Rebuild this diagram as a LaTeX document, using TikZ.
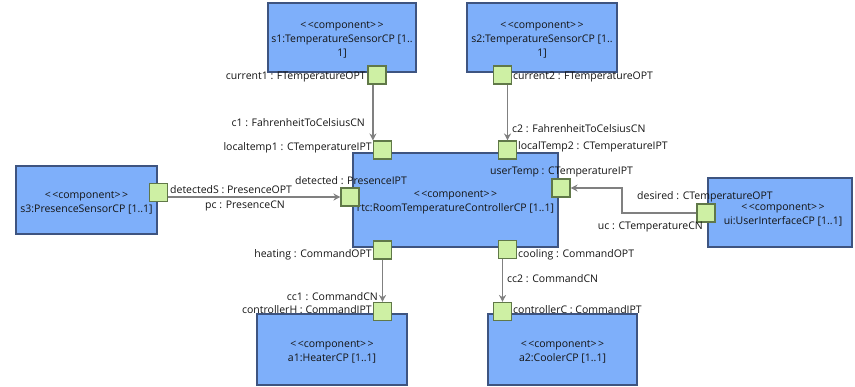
\documentclass[tikz,border=0pt]{standalone}
\usepackage{fontspec}
\setmainfont{Open Sans}
\usetikzlibrary{arrows.meta}

\definecolor{compfill}{RGB}{126,175,250}
\definecolor{compline}{RGB}{62,84,128}
\definecolor{portfill}{RGB}{206,240,164}
\definecolor{portline}{RGB}{96,120,72}
\definecolor{wire}{RGB}{128,128,128}
\definecolor{labeltext}{RGB}{20,20,20}

% stereotype marker, kept as separate angle brackets
\newcommand{\stereo}[1]{<\kern1.5pt<#1>\kern1.5pt>}

\tikzset{
  comp/.style={draw=compline, fill=compfill, line width=1.3pt, inner sep=0pt},
  comptext/.style={align=center, inner sep=0pt, yshift=-2.5pt,
    font=\fontsize{10.5}{14}\selectfont, text=labeltext},
  port/.style={draw=portline, fill=portfill, line width=1.1pt,
    minimum size=18pt, inner sep=0pt},
  wirelink/.style={draw=wire, line width=1.6pt, -{Stealth[length=7pt,width=7pt]}},
  lbl/.style={inner sep=0pt, font=\fontsize{10.5}{12}\selectfont, text=labeltext},
}

\begin{document}
\begin{tikzpicture}[x=1pt,y=-1pt]
\useasboundingbox (0,0) rectangle (855,386);

% component parts
\node[comp, minimum width=148pt, minimum height=69pt] (s1) at (342,37.5) {};
\node[comptext] (s1t) at (s1.center)
  {\stereo{component}\\s1:TemperatureSensorCP [1..\\1]};
\node[comp, minimum width=150pt, minimum height=69pt] (s2) at (542,37.5) {};
\node[comptext] (s2t) at (s2.center)
  {\stereo{component}\\s2:TemperatureSensorCP [1..\\1]};
\node[comp, minimum width=141pt, minimum height=68pt] (s3) at (86.5,200) {};
\node[comptext] (s3t) at (s3.center)
  {\stereo{component}\\s3:PresenceSensorCP [1..1]};
\node[comp, minimum width=205pt, minimum height=94pt] (rtc) at (455.5,200) {};
\node[comptext] (rtct) at (rtc.center)
  {\stereo{component}\\rtc:RoomTemperatureControllerCP [1..1]};
\node[comp, minimum width=144pt, minimum height=69pt] (ui) at (780,212.5) {};
\node[comptext] (uit) at ([xshift=3pt]ui.center)
  {\stereo{component}\\ui:UserInterfaceCP [1..1]};
\node[comp, minimum width=150pt, minimum height=71pt] (a1) at (332,349.5) {};
\node[comptext] (a1t) at (a1.center)
  {\stereo{component}\\a1:HeaterCP [1..1]};
\node[comp, minimum width=149pt, minimum height=71pt] (a2) at (562.5,349.5) {};
\node[comptext] (a2t) at (a2.center)
  {\stereo{component}\\a2:CoolerCP [1..1]};

% ports
\node[port] (pcur1) at (377,75) {};
\node[port] (pcur2) at (502.5,75) {};
\node[port] (pdetS) at (158.5,192.5) {};
\node[port] (ploc1) at (382.5,150) {};
\node[port] (ploc2) at (507.5,150) {};
\node[port] (puser) at (561,188) {};
\node[port] (pdet) at (350,197) {};
\node[port] (pheat) at (382.5,250) {};
\node[port] (pcool) at (507.5,249.5) {};
\node[port] (pdes) at (706,213) {};
\node[port] (pctrlH) at (382.5,311.5) {};
\node[port] (pctrlC) at (502.5,311.5) {};

% connectors
\coordinate (ucbend) at (622,213);
\draw[wirelink] (pcur1.south -| ploc1.north west) -- (ploc1.north west);
\draw[wirelink] (pcur2.south -| ploc2.north) -- (ploc2.north);
\draw[wirelink] (pdetS.east |- pdet.west) -- (pdet.west);
\draw[wirelink] (pdes.west) -- (ucbend) |- (puser.east);
\draw[wirelink] (pheat.south -| pctrlH.north) -- (pctrlH.north);
\draw[wirelink] (pcool.south -| pctrlC.north) -- (pctrlC.north);

% port and connector labels
\node[lbl, anchor=east] (lcur1) at (366,77) {current1 : FTemperatureOPT};
\node[lbl, anchor=west] (lcur2) at (513,77) {current2 : FTemperatureOPT};
\node[lbl, anchor=east] (lc1) at (365,123) {c1 : FahrenheitToCelsiusCN};
\node[lbl, anchor=west] (lc2) at (512,129) {c2 : FahrenheitToCelsiusCN};
\node[lbl, anchor=east] (lloc1) at (372,148) {localtemp1 : CTemperatureIPT};
\node[lbl, anchor=west] (lloc2) at (518,147) {localTemp2 : CTemperatureIPT};
\node[lbl, anchor=west] (luser) at (490,172) {userTemp : CTemperatureIPT};
\node[lbl, anchor=east] (ldet) at (407,181) {detected : PresenceIPT};
\node[lbl, anchor=west] (ldetS) at (170,190) {detectedS : PresenceOPT};
\node[lbl, anchor=west] (lpc) at (205,206) {pc : PresenceCN};
\node[lbl, anchor=west] (ldes) at (637,197) {desired : CTemperatureOPT};
\node[lbl, anchor=east] (luc) at (703,227) {uc : CTemperatureCN};
\node[lbl, anchor=east] (lheat) at (372,255) {heating : CommandOPT};
\node[lbl, anchor=west] (lcool) at (518,255) {cooling : CommandOPT};
\node[lbl, anchor=east] (lcc1) at (378,297) {cc1 : CommandCN};
\node[lbl, anchor=east] (lctrlH) at (372,310) {controllerH : CommandIPT};
\node[lbl, anchor=west] (lcc2) at (507,279) {cc2 : CommandCN};
\node[lbl, anchor=west] (lctrlC) at (513,310) {controllerC : CommandIPT};
\end{tikzpicture}
\end{document}
